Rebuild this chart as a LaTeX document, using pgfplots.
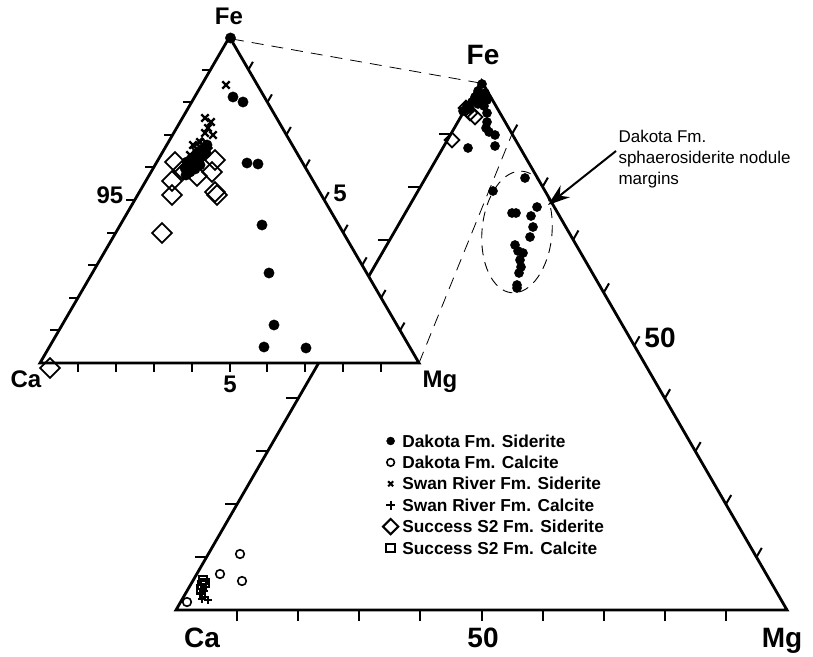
\documentclass[border=0pt]{standalone}
\usepackage{fontspec}
\setmainfont{Liberation Sans}
\usepackage{pgfplots}
\pgfplotsset{compat=1.18}
\usetikzlibrary{arrows.meta}
\tikzset{
  tri/.style={line width=2.8pt, line join=miter, draw=black},
  tk/.style={line width=2pt, draw=black},
  dsh/.style={line width=0.8pt, dash pattern=on 12pt off 8pt, draw=black},
}
\newcommand\lgf{\fontsize{17.3pt}{20pt}\selectfont\bfseries}
\begin{document}
\begin{tikzpicture}
\begin{axis}[
  x=1pt, y=1pt, y dir=reverse,
  xmin=0, xmax=813, ymin=0, ymax=656,
  hide axis, clip=false,
  legend cell align=left,
  legend style={at={(axis cs:383,433)}, anchor=north west, draw=none, fill=none,
    inner sep=0pt, outer sep=0pt, row sep=0pt, column sep=4pt,
    nodes={inner sep=0pt, text height=14pt, text depth=7.4pt, anchor=base west, font=\lgf}},
  legend image code/.code={\draw[#1] plot[only marks] coordinates {(0pt,6pt)};},
]
\path (axis cs:0,0) rectangle (axis cs:813,656);
% ---------- big triangle ----------
\addplot[tri, forget plot] coordinates {(176,610) (787,610) (481.5,81)} -- cycle;
\pgfplotsinvokeforeach{1,...,9}{
  \draw[tk] (axis cs:{176+61.1*#1},610) -- (axis cs:{176+61.1*#1},621);
  \draw[tk] (axis cs:{176+30.55*#1},{610-52.9*#1}) -- (axis cs:{164+30.55*#1},{610-52.9*#1});
  \draw[tk] (axis cs:{481.5+30.55*#1},{81+52.9*#1}) -- (axis cs:{486.8+30.55*#1},{71.8+52.9*#1});
}
% dashed connectors
\addplot[dsh, forget plot] coordinates {(232,39) (480,83)};
\addplot[dsh, forget plot] coordinates {(419,363) (512,134)};
% ellipse and arrow
\draw[line width=0.9pt, dash pattern=on 10pt off 7pt, rotate around={-5:(axis cs:517,232)}]
  (axis cs:517,232) ellipse [x radius=35pt, y radius=61pt];
\draw[line width=2pt, -{Stealth[length=22pt,width=15pt]}] (axis cs:616,151) -- (axis cs:548,205);
% big-triangle data
\addplot[only marks, mark=*, mark size=4.6pt, black, forget plot] coordinates {
 (482,84) (478,91) (485,93) (475,97) (487,100) (480,99) (472,102) (467,106) (478,104)
 (470,109) (463,111) (484,106) (487,113) (487,122) (486,128) (489,132) (495,135)
 (495,146) (468,148)
 (525,178) (493,191) (537,207) (512,213) (516,213) (531,216) (533,227) (530,237)
 (515,245) (518,251) (523,253) (520,260) (521,267) (519,273) (517,285) (517,288)};
\addplot[only marks, mark=square, mark size=5.2pt, black, forget plot,
  mark options={rotate=45, line width=1.8pt, line join=miter}] coordinates {
 (452,140) (470,113) (466,108) (475,117)};
\addplot[only marks, mark=o, mark size=4.3pt, black, forget plot, mark options={line width=1.6pt}] coordinates {
 (187,602) (220,574) (240,554) (242,581)};
\addplot[only marks, mark=+, mark size=4pt, black, forget plot, mark options={line width=2pt}] coordinates {
 (200,594) (205,597) (208,600) (202,599) (204,591)};
\addplot[only marks, mark=square, mark size=3.8pt, black, forget plot, mark options={line width=2pt}] coordinates {
 (203,580) (202,585) (205,583) (201,589)};
% ---------- small triangle ----------
\addplot[tri, fill=white, forget plot] coordinates {(40,363) (419,363) (229.5,37)} -- cycle;
\pgfplotsinvokeforeach{1,...,9}{
  \draw[tk] (axis cs:{40+37.9*#1},363) -- (axis cs:{40+37.9*#1},372);
  \draw[tk] (axis cs:{40+18.95*#1},{363-32.6*#1}) -- (axis cs:{31+18.95*#1},{363-32.6*#1});
  \draw[tk] (axis cs:{229.5+18.95*#1},{37+32.6*#1}) -- (axis cs:{234+18.95*#1},{29.2+32.6*#1});
}
\addplot[only marks, mark=*, mark size=5.2pt, black, forget plot] coordinates {
 (230.5,38) (233,97) (243,102) (247,163) (258,164) (262,225) (269,273) (274,325)
 (264,347) (306,348)
 (187,162) (192,158) (197,153) (202,149) (207,145) (185,168) (191,165) (196,161)
 (201,157) (206,153) (190,172) (195,169) (200,165) (186,175)};
\addplot[only marks, mark=x, mark size=5.2pt, black, forget plot, mark options={line width=2.4pt}] coordinates {
 (226,85) (205,118) (211,122) (213,135) (205,133) (193,145) (200,142) (208,128)
 (198,150) (190,155)};
\addplot[only marks, mark=square, mark size=7pt, black, forget plot,
  mark options={rotate=45, line width=1.8pt, line join=miter}] coordinates {
 (175,162) (172,181) (172,195) (162,233) (215,160) (212,172) (215,192) (217,195)
 (190,167) (183,170) (202,148) (197,176) (50,368)};
% ---------- labels ----------
\node[anchor=base, font=\fontsize{24pt}{26pt}\selectfont\bfseries] at (axis cs:229,25) {Fe};
\node[anchor=base, font=\fontsize{24pt}{26pt}\selectfont\bfseries] at (axis cs:26,387) {Ca};
\node[anchor=base, font=\fontsize{24pt}{26pt}\selectfont\bfseries] at (axis cs:440,387) {Mg};
\node[anchor=base, font=\fontsize{24pt}{26pt}\selectfont\bfseries] at (axis cs:230,392) {5};
\node[anchor=base, font=\fontsize{24pt}{26pt}\selectfont\bfseries] at (axis cs:110,204) {95};
\node[anchor=base, font=\fontsize{24pt}{26pt}\selectfont\bfseries] at (axis cs:340,202) {5};
\node[anchor=base, font=\fontsize{28pt}{30pt}\selectfont\bfseries] at (axis cs:483,65) {Fe};
\node[anchor=base, font=\fontsize{28pt}{30pt}\selectfont\bfseries] at (axis cs:202,647) {Ca};
\node[anchor=base, font=\fontsize{28pt}{30pt}\selectfont\bfseries] at (axis cs:483,647) {50};
\node[anchor=base, font=\fontsize{28pt}{30pt}\selectfont\bfseries] at (axis cs:782,647) {Mg};
\node[anchor=base, font=\fontsize{28pt}{30pt}\selectfont\bfseries] at (axis cs:660,347) {50};
\node[anchor=base west, font=\fontsize{17pt}{20pt}\selectfont] at (axis cs:615,143) {Dakota Fm.};
\node[anchor=base west, font=\fontsize{17pt}{20pt}\selectfont] at (axis cs:615,164) {sphaerosiderite nodule};
\node[anchor=base west, font=\fontsize{17pt}{20pt}\selectfont] at (axis cs:615,185) {margins};
% ---------- legend ----------
\addlegendimage{only marks, mark=*, mark size=4pt, black}
\addlegendentry{\lgf Dakota Fm. Siderite}
\addlegendimage{only marks, mark=o, mark size=3.8pt, black, mark options={line width=1.6pt}}
\addlegendentry{\lgf Dakota Fm. Calcite}
\addlegendimage{only marks, mark=x, mark size=3.5pt, black, mark options={line width=2pt}}
\addlegendentry{\lgf Swan River Fm. Siderite}
\addlegendimage{only marks, mark=+, mark size=4.5pt, black, mark options={line width=2pt}}
\addlegendentry{\lgf Swan River Fm. Calcite}
\addlegendimage{only marks, mark=square, mark size=5.4pt, black, mark options={rotate=45, line width=2pt, line join=miter}}
\addlegendentry{\lgf Success S2 Fm. Siderite}
\addlegendimage{only marks, mark=square, mark size=4.2pt, black, mark options={line width=2pt}}
\addlegendentry{\lgf Success S2 Fm. Calcite}
\end{axis}
\end{tikzpicture}
\end{document}
